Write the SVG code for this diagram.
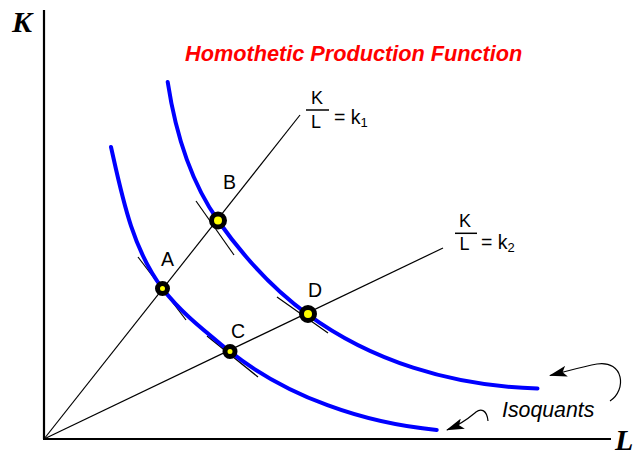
<svg xmlns="http://www.w3.org/2000/svg" width="636" height="457" viewBox="0 0 636 457">
<defs>
<style>
.axis{stroke:#000;stroke-width:2.2;fill:none}
.ray{stroke:#000;stroke-width:1.2;fill:none}
.tan{stroke:#000;stroke-width:1.2;fill:none}
.iso{stroke:#0000FF;stroke-width:4;fill:none;stroke-linecap:round}
.pt{fill:#FFFF00;stroke:#000;stroke-width:5}
.lbl{font-family:"Liberation Sans",Arial,sans-serif;font-size:19.5px;fill:#000}
.frac{font-family:"Liberation Sans",Arial,sans-serif;font-size:18px;fill:#000;text-anchor:middle}
.ax{font-family:"Liberation Serif","Times New Roman",serif;font-size:30px;font-weight:bold;font-style:italic;fill:#000}
.arr{stroke:#000;stroke-width:1.2;fill:none;marker-end:url(#ah)}
</style>
<marker id="ah" markerUnits="userSpaceOnUse" markerWidth="18" markerHeight="11" refX="17" refY="5.5" orient="auto">
<path d="M0,0 L18,5.5 L0,11 L4,5.5 z" fill="#000"/>
</marker>
</defs>
<g id="axes">
<line class="axis" x1="44" y1="10" x2="44" y2="439"/>
<line class="axis" x1="43" y1="439" x2="611" y2="439"/>
<text class="ax" x="12" y="32">K</text>
<text class="ax" x="615" y="450" font-size="24">L</text>
</g>
<text id="title" x="185" y="61" font-family="'Liberation Sans',Arial,sans-serif" font-size="21.7" font-weight="bold" font-style="italic" fill="#FF0000">Homothetic Production Function</text>
<g id="connectors">
<line id="ray1" class="ray" x1="44" y1="439" x2="300" y2="115"/>
<line id="ray2" class="ray" x1="44" y1="439" x2="443" y2="248"/>
<line class="tan" x1="138" y1="257" x2="186" y2="320"/>
<line class="tan" x1="196" y1="201" x2="234" y2="255"/>
<line class="tan" x1="207" y1="336" x2="258" y2="377"/>
<line class="tan" x1="277" y1="297" x2="328" y2="333"/>
<path class="arr" d="M610,401 C627,390 624,360 597,364 C585,366 575,369 550,375.5"/>
<path class="arr" d="M488,421 C487,410 481,408 476,412 C470,417 462,424 447,430"/>
</g>
<g id="isoquant-inner">
<path class="iso" d="M111,147 C122,196 132,248 162.3,288.3 C181,313 206,332 230,351.7 C288,397 363,423 436.7,430"/>
</g>
<g id="isoquant-outer">
<path class="iso" d="M167.7,82 C175,130 190,181 218.3,221 C243,256 273,289 307.7,314.3 C370,360 450,386 537.5,388.5"/>
</g>
<g id="A"><circle class="pt" cx="162.5" cy="288.5" r="5"/><text class="lbl" x="161" y="266">A</text></g>
<g id="B"><circle class="pt" cx="218" cy="220.5" r="6.5"/><text class="lbl" x="223" y="189">B</text></g>
<g id="C"><circle class="pt" cx="230" cy="351.5" r="5"/><text class="lbl" x="231" y="338">C</text></g>
<g id="D"><circle class="pt" cx="308" cy="314" r="6.5"/><text class="lbl" x="308" y="297">D</text></g>
<g id="k1">
<text class="frac" x="317" y="104">K</text>
<line x1="306" y1="110" x2="329" y2="110" stroke="#000" stroke-width="1.5"/>
<text class="frac" x="316" y="127.5">L</text>
<text class="lbl" x="334" y="124">= k<tspan font-size="13" dy="3">1</tspan></text>
</g>
<g id="k2">
<text class="frac" x="465" y="227">K</text>
<line x1="455" y1="233.3" x2="477" y2="233.3" stroke="#000" stroke-width="1.5"/>
<text class="frac" x="464.5" y="250">L</text>
<text class="lbl" x="481" y="249.3">= k<tspan font-size="13" dy="3">2</tspan></text>
</g>
<text id="isoquants" x="502" y="417" font-family="'Liberation Sans',Arial,sans-serif" font-size="21.3" font-style="italic" fill="#000">Isoquants</text>
</svg>
